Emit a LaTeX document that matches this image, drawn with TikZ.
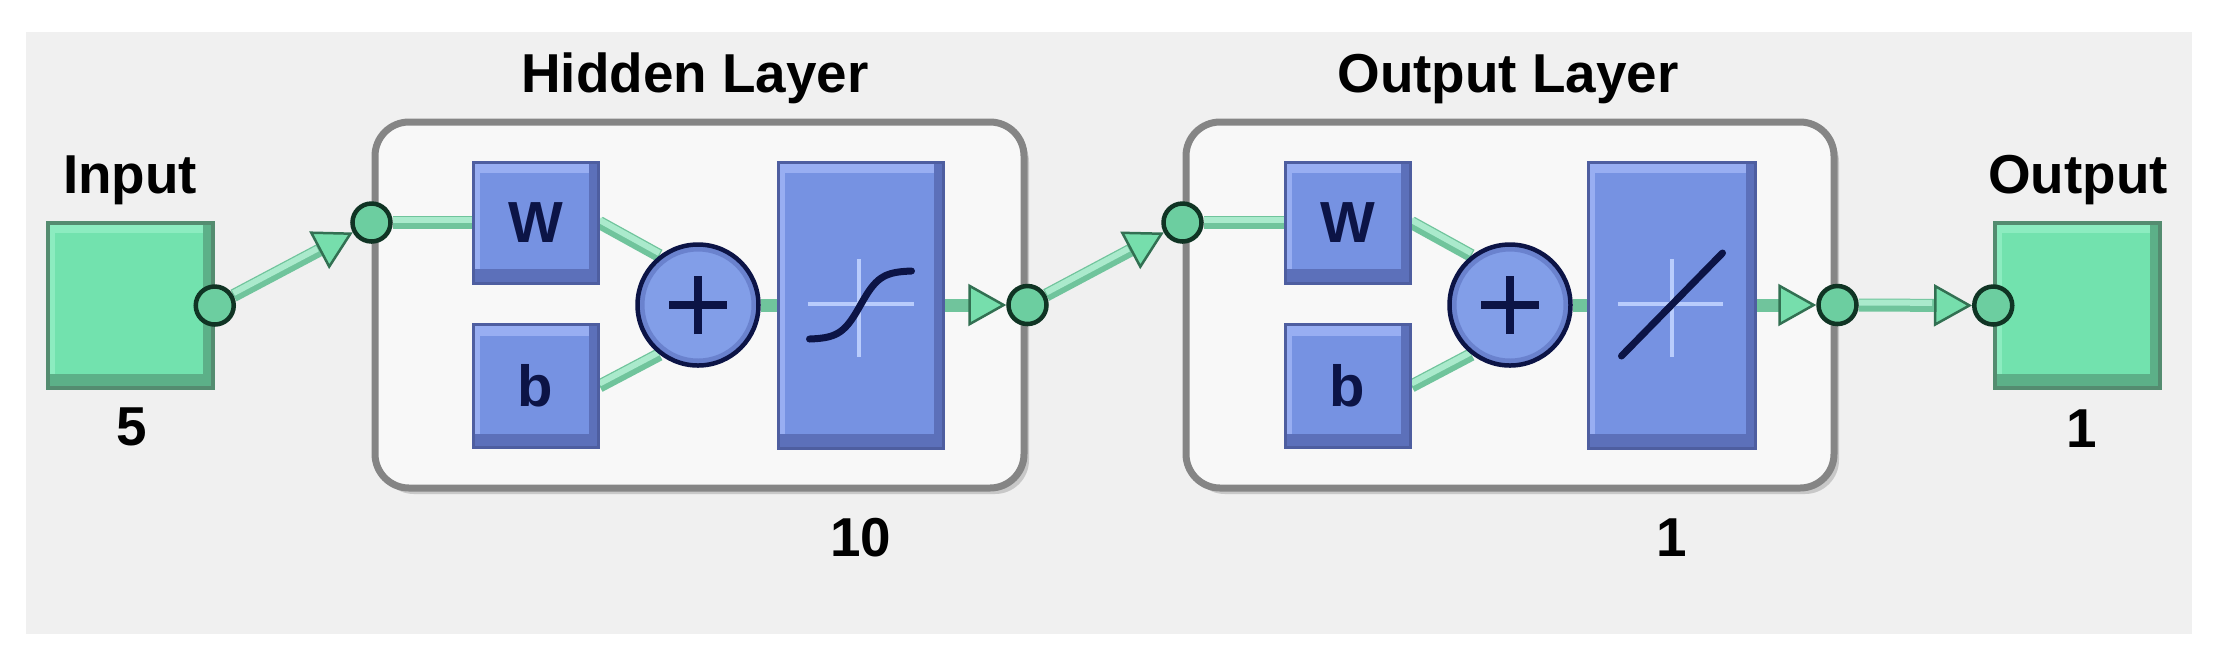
\documentclass[tikz,border=0pt]{standalone}
\usepackage{fontspec}
\setmainfont{Liberation Sans}
\usetikzlibrary{arrows.meta,calc}
\definecolor{panelbg}{HTML}{F0F0F0}
\definecolor{layerfill}{HTML}{F8F8F8}
\definecolor{layeredge}{HTML}{858585}
\definecolor{layershadow}{HTML}{C8C8C8}
\definecolor{blueMain}{RGB}{118,146,226}
\definecolor{blueLight}{RGB}{152,174,242}
\definecolor{blueDark}{RGB}{92,112,186}
\definecolor{blueEdge}{RGB}{78,94,160}
\definecolor{navy}{RGB}{12,20,70}
\definecolor{greenMain}{RGB}{114,226,174}
\definecolor{greenLight}{RGB}{140,236,192}
\definecolor{greenDark}{RGB}{92,176,136}
\definecolor{greenEdge}{RGB}{84,140,112}
\definecolor{dotFill}{RGB}{108,206,160}
\definecolor{dotEdge}{RGB}{16,52,36}
\definecolor{bandMain}{RGB}{112,196,156}
\definecolor{bandHi}{RGB}{170,234,204}
\definecolor{tipFill}{RGB}{118,222,172}
\definecolor{tipEdge}{RGB}{50,112,82}
\definecolor{axisLight}{RGB}{185,204,252}
\definecolor{sumFill}{RGB}{130,158,232}
\definecolor{sumRing}{RGB}{106,130,206}
\pgfdeclarelayer{bglayer}
\pgfdeclarelayer{connlayer}
\pgfsetlayers{bglayer,connlayer,main}
\tikzset{
  lbl/.style={font=\fontsize{15.6}{18}\selectfont\bfseries, text=black, inner sep=0pt},
  layerbox/.style={draw=layeredge, line width=0.7mm, fill=layerfill, rounded corners=3.4mm,
    minimum width=64.9mm, minimum height=36.6mm, inner sep=0pt},
  layershade/.style={fill=layershadow, rounded corners=3.4mm},
  bluebox/.style={draw=blueEdge, line width=0.3mm, fill=blueMain, inner sep=0pt,
    font=\fontsize{16.5}{18}\selectfont\bfseries, text=navy,
    path picture={
      \fill[blueLight] (path picture bounding box.south west) rectangle ([xshift=0.7mm]path picture bounding box.north west);
      \fill[blueLight] ([yshift=-1.1mm]path picture bounding box.north west) rectangle (path picture bounding box.north east);
      \fill[blueDark] ([xshift=-0.9mm]path picture bounding box.south east) rectangle (path picture bounding box.north east);
      \fill[blueDark] (path picture bounding box.south west) rectangle ([yshift=1.4mm]path picture bounding box.south east);
    }},
  greenbox/.style={draw=greenEdge, line width=0.35mm, fill=greenMain, inner sep=0pt, minimum size=16.5mm,
    path picture={
      \fill[greenLight] (path picture bounding box.south west) rectangle ([xshift=0.7mm]path picture bounding box.north west);
      \fill[greenLight] ([yshift=-1.0mm]path picture bounding box.north west) rectangle (path picture bounding box.north east);
      \fill[greenDark] ([xshift=-1.0mm]path picture bounding box.south east) rectangle (path picture bounding box.north east);
      \fill[greenDark] (path picture bounding box.south west) rectangle ([yshift=1.4mm]path picture bounding box.south east);
    }},
  dot/.style={circle, draw=dotEdge, fill=dotFill, line width=0.45mm, minimum size=3.8mm, inner sep=0pt},
  sumnode/.style={circle, draw=navy, fill=sumFill, line width=0.45mm, minimum size=12.1mm, inner sep=0pt,
    path picture={
      \draw[sumRing, line width=0.7mm] (path picture bounding box.center) circle[radius=5.7mm];
      \draw[navy, line width=0.75mm] ([xshift=-2.9mm]path picture bounding box.center) -- ([xshift=2.9mm]path picture bounding box.center);
      \draw[navy, line width=0.75mm] ([yshift=-2.9mm]path picture bounding box.center) -- ([yshift=2.9mm]path picture bounding box.center);
    }},
  band/.style={draw=bandMain, line width=1.3mm},
  bandhi/.style={draw=bandHi, line width=0.6mm, transform canvas={yshift=0.25mm}},
  tip/.style={-{Triangle[length=3.8mm, width=4.2mm, color=tipEdge, fill=tipFill, line width=0.25mm]}},
  axisline/.style={draw=axisLight, line width=0.35mm},
  curveline/.style={draw=navy, line width=0.7mm, line cap=round}
}
\begin{document}
\begin{tikzpicture}[x=0.1mm, y=-0.1mm]
\useasboundingbox (0,0) rectangle (2217,668);
\begin{pgfonlayer}{bglayer}
  \fill[white] (0,0) rectangle (2217,668);
  \fill[panelbg] (26,32) rectangle (2192,634);
  \fill[layershade] (380,128) rectangle (1029,494);
  \fill[layershade] (1191,128) rectangle (1839,494);
  \node[layerbox] (hl) at (699.5,305) {};
  \node[layerbox, minimum width=64.8mm] (ol) at (1510,305) {};
\end{pgfonlayer}

% titles and sizes
\node[lbl, anchor=base] (tin) at (130,193) {Input};
\node[lbl, anchor=base] (nin) at (132,445) {5};
\node[lbl, anchor=base] (thl) at (695,92) {Hidden Layer};
\node[lbl, anchor=base] (nhl) at (861,556) {10};
\node[lbl, anchor=base] (tol) at (1508,92) {Output Layer};
\node[lbl, anchor=base] (nol) at (1672,556) {1};
\node[lbl, anchor=base] (tout) at (2078,193) {Output};
\node[lbl, anchor=base] (nout) at (2082,447) {1};

% blocks
\node[greenbox] (inp) at (130.5,305.5) {};
\node[greenbox] (outp) at (2077.5,305.5) {};
\node[bluebox, minimum width=12.5mm, minimum height=12.1mm] (w1) at (535.5,222.5) {W};
\node[bluebox, minimum width=12.5mm, minimum height=12.3mm] (b1) at (535.5,386) {b};
\node[sumnode] (s1) at (698,305) {};
\node[bluebox, minimum width=16.5mm, minimum height=28.6mm] (tf1) at (860.5,305) {};
\node[bluebox, minimum width=12.5mm, minimum height=12.1mm] (w2) at (1347.5,222.5) {W};
\node[bluebox, minimum width=12.5mm, minimum height=12.3mm] (b2) at (1347.5,386) {b};
\node[sumnode] (s2) at (1510,305) {};
\node[bluebox, minimum width=16.7mm, minimum height=28.6mm] (tf2) at (1671.5,305) {};

% transfer function glyphs
\begin{scope}[shift={(tf1.center)}]
  \draw[axisline] (-1.5,-46) -- (-1.5,52);
  \draw[axisline] (-53,-1) -- (53,-1);
  \draw[curveline] plot[domain=-1:1, samples=41, smooth] ({51*\x}, {-34*tanh(2.6*\x)/tanh(2.6)});
\end{scope}
\begin{scope}[shift={(tf2.center)}]
  \draw[axisline] (0.5,-46) -- (0.5,52);
  \draw[axisline] (-54,-1) -- (51,-1);
  \draw[curveline] (-50,51) -- (51,-52);
\end{scope}

% junction dots
\node[dot] (inc) at (inp.east) {};
\node[dot] (hin1) at (hl.west |- w1) {};
\node[dot] (hout1) at (hl.east |- s1) {};
\node[dot] (hin2) at (ol.west |- w2) {};
\node[dot] (hout2) at (ol.east |- s2) {};
\node[dot] (outc) at (outp.west) {};

% connectors
\begin{pgfonlayer}{connlayer}
  \draw[band, tip] (inc) -- (hin1);
  \draw[bandhi, shorten >=4mm] (inc) -- (hin1);
  \draw[band] (hin1) -- (w1.west);
  \draw[bandhi] (hin1) -- (w1.west);
  \draw[band] (w1.east) -- (s1.128);
  \draw[bandhi] (w1.east) -- (s1.128);
  \draw[band] (b1.east) -- (s1.232);
  \draw[bandhi] (b1.east) -- (s1.232);
  \draw[band] (s1.east) -- (tf1.west);
  \draw[band, tip] (tf1.east) -- (hout1);
  \draw[band, tip] (hout1) -- (hin2);
  \draw[bandhi, shorten >=4mm] (hout1) -- (hin2);
  \draw[band] (hin2) -- (w2.west);
  \draw[bandhi] (hin2) -- (w2.west);
  \draw[band] (w2.east) -- (s2.128);
  \draw[bandhi] (w2.east) -- (s2.128);
  \draw[band] (b2.east) -- (s2.232);
  \draw[bandhi] (b2.east) -- (s2.232);
  \draw[band] (s2.east) -- (tf2.west);
  \draw[band, tip] (tf2.east) -- (hout2);
  \draw[band, tip] (hout2) -- (outc);
  \draw[bandhi, shorten >=4mm] (hout2) -- (outc);
\end{pgfonlayer}
\end{tikzpicture}
\end{document}
